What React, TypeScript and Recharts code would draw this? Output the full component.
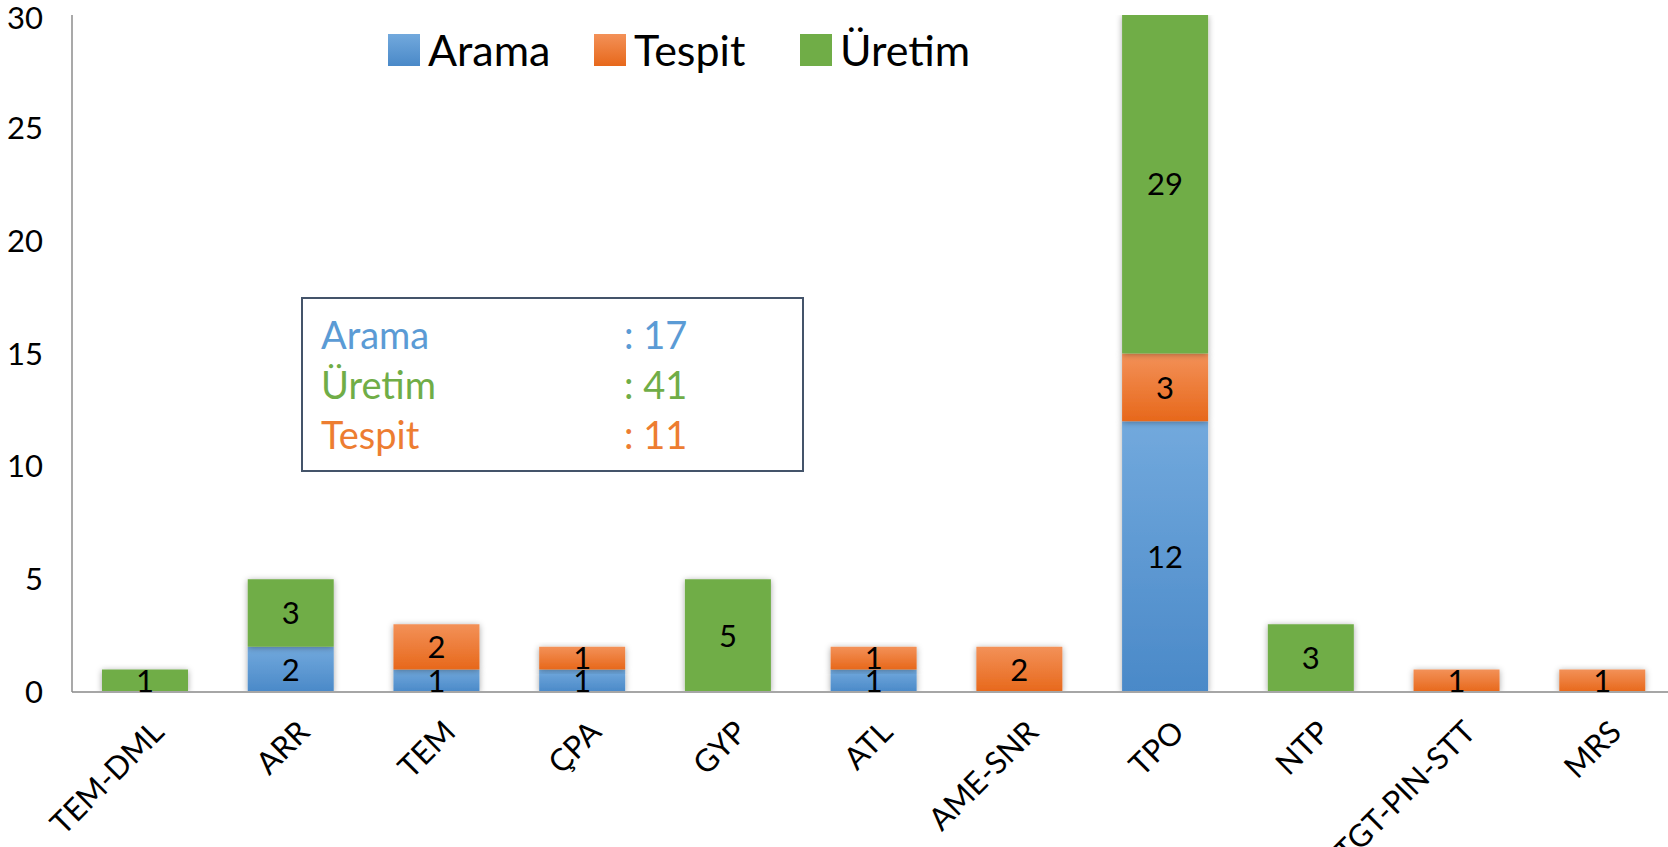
import { Bar, BarChart, LabelList, XAxis, YAxis } from 'recharts';

const categories = ['TEM-DML', 'ARR', 'TEM', 'ÇPA', 'GYP', 'ATL', 'AME-SNR', 'TPO', 'NTP', 'TGT-PIN-STT', 'MRS'];
const arama = [0, 2, 1, 1, 0, 1, 0, 12, 0, 0, 0];
const tespit = [0, 0, 2, 1, 0, 1, 2, 3, 0, 1, 1];
const uretim = [1, 3, 0, 0, 5, 0, 0, 29, 3, 0, 0];
const yTicks = [0, 5, 10, 15, 20, 25, 30];

const totalLabels = ['Arama', 'Üretim', 'Tespit'];
const totalValues = [17, 41, 11];

const BLUE = '#5b9bd5';
const ORANGE = '#ed7d31';
const GREEN = '#70ad47';
const totalColors = [BLUE, GREEN, ORANGE];

const FONT = 'Lato, "Open Sans", sans-serif';
const PLOT_TOP = 15;

const data = categories.map((name, i) => ({
  name,
  arama: arama[i],
  tespit: tespit[i],
  uretim: uretim[i],
}));

const legendItems = [
  { label: 'Arama', top: '#72a9dd', bottom: '#4a89c8' },
  { label: 'Tespit', top: '#f39158', bottom: '#e7681b' },
  { label: 'Üretim', top: GREEN, bottom: GREEN },
];

// excel-style centered labels, hidden for empty segments
// biome-ignore lint/suspicious/noExplicitAny: recharts label props
function SegLabel(props: any) {
  const { x, y, width, height, value } = props;
  if (!value) return null;
  const top = Math.max(y, PLOT_TOP);
  const cy = (top + y + height) / 2;
  return (
    <text x={x + width / 2} y={cy} dy="0.36em" textAnchor="middle" fontSize={31} fontFamily={FONT} fill="#000">
      {value}
    </text>
  );
}

// biome-ignore lint/suspicious/noExplicitAny: recharts tick props
function XTick(props: any) {
  const { x, y, payload } = props;
  return (
    <g transform={`translate(${x + 21},${y + 34})`}>
      <text textAnchor="end" transform="rotate(-45)" fontSize={31} fontFamily={FONT} fill="#000">
        {payload.value}
      </text>
    </g>
  );
}

function LegendBox() {
  return (
    <div
      style={{
        position: 'absolute',
        left: 388,
        top: 28,
        display: 'flex',
        alignItems: 'center',
        fontFamily: FONT,
        fontSize: 43,
        color: '#000',
      }}
    >
      {legendItems.map((it) => (
        <div key={it.label} style={{ display: 'flex', alignItems: 'center', width: 206 }}>
          <svg width={32} height={32} style={{ marginRight: 8, flex: 'none' }}>
            <defs>
              <linearGradient id={`lg${it.label}`} x1="0" y1="0" x2="0" y2="1">
                <stop offset="0%" stopColor={it.top} />
                <stop offset="100%" stopColor={it.bottom} />
              </linearGradient>
            </defs>
            <rect width={32} height={32} fill={`url(#lg${it.label})`} />
          </svg>
          <span style={{ lineHeight: '44px', whiteSpace: 'nowrap' }}>{it.label}</span>
        </div>
      ))}
    </div>
  );
}

export default function App() {
  return (
    <div
      style={{
        position: 'fixed',
        left: 0,
        top: 0,
        width: 1668,
        height: 847,
        overflow: 'hidden',
        background: '#fff',
      }}
    >
      <BarChart width={1680} height={847} data={data} margin={{ top: PLOT_TOP, right: 5, left: 0, bottom: 0 }} barSize={86}>
        <defs>
          <linearGradient id="gBlue" x1="0" y1="0" x2="0" y2="1">
            <stop offset="0%" stopColor="#72a9dd" />
            <stop offset="100%" stopColor="#4a89c8" />
          </linearGradient>
          <linearGradient id="gOrange" x1="0" y1="0" x2="0" y2="1">
            <stop offset="0%" stopColor="#f39158" />
            <stop offset="100%" stopColor="#e7681b" />
          </linearGradient>
          <filter id="shadow" x="-20%" y="-20%" width="140%" height="140%">
            <feDropShadow dx="0" dy="1" stdDeviation="3" floodColor="#000" floodOpacity="0.35" />
          </filter>
        </defs>
        <XAxis
          dataKey="name"
          height={847 - 692}
          interval={0}
          tickLine={false}
          axisLine={{ stroke: '#a6a6a6', strokeWidth: 2 }}
          tick={<XTick />}
        />
        <YAxis
          width={72}
          domain={[0, 30]}
          ticks={yTicks}
          allowDataOverflow
          tickLine={false}
          tickSize={0}
          tickMargin={29}
          axisLine={{ stroke: '#8c8c8c', strokeWidth: 1.5 }}
          tick={{ fontSize: 31, fontFamily: FONT, fill: '#000' }}
        />
        <Bar dataKey="arama" stackId="a" fill="url(#gBlue)" filter="url(#shadow)" isAnimationActive={false}>
          <LabelList dataKey="arama" content={<SegLabel />} />
        </Bar>
        <Bar dataKey="tespit" stackId="a" fill="url(#gOrange)" filter="url(#shadow)" isAnimationActive={false}>
          <LabelList dataKey="tespit" content={<SegLabel />} />
        </Bar>
        <Bar dataKey="uretim" stackId="a" fill={GREEN} filter="url(#shadow)" isAnimationActive={false}>
          <LabelList dataKey="uretim" content={<SegLabel />} />
        </Bar>
      </BarChart>
      <LegendBox />
      <div
        style={{
          position: 'absolute',
          left: 301,
          top: 297,
          width: 503,
          height: 175,
          border: '2px solid #44546a',
          fontFamily: FONT,
          fontSize: 38,
          lineHeight: '50px',
          paddingTop: 10,
          boxSizing: 'border-box',
        }}
      >
        {totalLabels.map((label, i) => (
          <div key={label} style={{ position: 'relative', height: 50, color: totalColors[i] }}>
            <span style={{ position: 'absolute', left: 18 }}>{label}</span>
            <span style={{ position: 'absolute', left: 321 }}>: {totalValues[i]}</span>
          </div>
        ))}
      </div>
    </div>
  );
}
